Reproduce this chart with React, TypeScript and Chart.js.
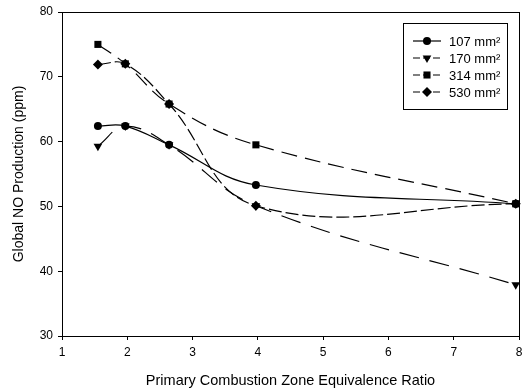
import React, { useEffect, useRef } from 'react';
import { Chart, registerables } from 'chart.js';

Chart.register(...registerables);

const phi = [1.55, 1.97, 2.64, 3.97, 7.95];
const no107 = [62.4, 62.4, 59.5, 53.3, 50.4];
const no170 = [59.3, 62.4, 59.5, 50.1, 37.9];
const no314 = [75.0, 72.0, 65.8, 59.5, 50.4];
const no530 = [71.9, 72.0, 65.8, 50.1, 50.4];
const seriesLabels = ['107 mm²', '170 mm²', '314 mm²', '530 mm²'];
const seriesValues = [no107, no170, no314, no530];
const pointStyles = ['circle', 'triangle', 'rect', 'rectRot'];
const pointRotations = [0, 180, 0, 0];
const pointRadii = [4, 5, 5, 5];
const dashes = [[], [20, 11], [16, 8], [13, 4]];
const xTicks = [1, 2, 3, 4, 5, 6, 7, 8];
const yTicks = [30, 40, 50, 60, 70, 80];

const FONT = "'Liberation Sans', Arial, sans-serif";

function drawMarker(ctx: CanvasRenderingContext2D, style: string, rot: number, x: number, y: number, r: number) {
  ctx.save();
  ctx.setLineDash([]);
  ctx.fillStyle = '#000';
  ctx.beginPath();
  if (style === 'circle') {
    ctx.arc(x, y, r, 0, Math.PI * 2);
  } else if (style === 'rect') {
    const s = Math.SQRT1_2 * r;
    ctx.rect(x - s, y - s, 2 * s, 2 * s);
  } else if (style === 'rectRot') {
    ctx.moveTo(x, y - r);
    ctx.lineTo(x + r, y);
    ctx.lineTo(x, y + r);
    ctx.lineTo(x - r, y);
    ctx.closePath();
  } else if (style === 'triangle') {
    const a0 = (rot * Math.PI) / 180;
    for (let k = 0; k < 3; k++) {
      const a = a0 + (k * 2 * Math.PI) / 3;
      const px = x + Math.sin(a) * r;
      const py = y - Math.cos(a) * r;
      if (k === 0) ctx.moveTo(px, py);
      else ctx.lineTo(px, py);
    }
    ctx.closePath();
  }
  ctx.fill();
  ctx.restore();
}

const framePlugin = {
  id: 'frameAndLegend',
  afterDraw(chart: any) {
    const ctx: CanvasRenderingContext2D = chart.ctx;
    const a = chart.chartArea;
    ctx.save();
    ctx.strokeStyle = '#000';
    ctx.lineWidth = 1;
    ctx.setLineDash([]);
    ctx.strokeRect(Math.round(a.left) + 0.5, Math.round(a.top) + 0.5, Math.round(a.right - a.left), Math.round(a.bottom - a.top));

    // legend box
    const bx = 403, by = 23, bw = 104, bh = 86;
    ctx.fillStyle = '#fff';
    ctx.fillRect(bx, by, bw, bh);
    ctx.strokeRect(bx + 0.5, by + 0.5, bw, bh);
    ctx.font = `13px ${FONT}`;
    ctx.textBaseline = 'middle';
    ctx.textAlign = 'left';
    chart.data.datasets.forEach((ds: any, i: number) => {
      const y = by + 18 + i * 17;
      ctx.save();
      ctx.strokeStyle = '#000';
      ctx.lineWidth = 1.2;
      ctx.setLineDash(ds.borderDash && ds.borderDash.length ? [7, 3] : []);
      ctx.beginPath();
      ctx.moveTo(413, y);
      ctx.lineTo(441, y);
      ctx.stroke();
      ctx.restore();
      drawMarker(ctx, ds.pointStyle, ds.pointRotation || 0, 427, y, ds.pointRadius);
      ctx.fillStyle = '#000';
      ctx.fillText(ds.label, 449, y + 1);
    });
    ctx.restore();
  },
};

export default function App() {
  const ref = useRef<HTMLCanvasElement | null>(null);
  useEffect(() => {
    if (!ref.current) return;
    const chart = new Chart(ref.current, {
      type: 'line',
      data: {
        datasets: seriesValues.map((vals, i) => ({
          label: seriesLabels[i],
          data: phi.map((x, j) => ({ x, y: vals[j] })),
          borderColor: '#000',
          backgroundColor: '#000',
          borderWidth: 1.2,
          borderDash: dashes[i],
          pointStyle: pointStyles[i] as any,
          pointRotation: pointRotations[i],
          pointRadius: pointRadii[i],
          pointBorderWidth: 0,
          pointBackgroundColor: '#000',
          tension: 0.4,
          fill: false,
          clip: false as any,
        })),
      },
      options: {
        responsive: false,
        animation: false,
        layout: { padding: { left: 0, right: 3, top: 12, bottom: 0 } },
        plugins: {
          legend: { display: false },
          tooltip: { enabled: false },
        },
        scales: {
          x: {
            type: 'linear',
            min: 1,
            max: 8,
            afterBuildTicks: (s: any) => {
              s.ticks = xTicks.map((v) => ({ value: v }));
            },
            afterFit: (s: any) => {
              s.height = 54;
              s.paddingLeft = 0;
              s.paddingRight = 0;
            },
            grid: { drawOnChartArea: false, drawTicks: true, tickLength: 4, color: '#000' },
            border: { color: '#000', width: 1 },
            ticks: { color: '#000', font: { family: FONT, size: 12 }, padding: 5, maxRotation: 0 },
            title: {
              display: true,
              text: 'Primary Combustion Zone Equivalence Ratio',
              color: '#000',
              font: { family: FONT, size: 14.5 },
              padding: { top: 5, bottom: 0 },
            },
          },
          y: {
            type: 'linear',
            min: 30,
            max: 80,
            afterBuildTicks: (s: any) => {
              s.ticks = yTicks.map((v) => ({ value: v }));
            },
            afterFit: (s: any) => {
              s.width = 62;
              s.paddingTop = 0;
              s.paddingBottom = 0;
            },
            grid: { drawOnChartArea: false, drawTicks: true, tickLength: 4, color: '#000' },
            border: { color: '#000', width: 1 },
            ticks: { color: '#000', font: { family: FONT, size: 12 }, padding: 5 },
            title: {
              display: true,
              text: 'Global NO Production (ppm)',
              color: '#000',
              font: { family: FONT, size: 14 },
              padding: { top: 11, bottom: 0 },
            },
          },
        },
      },
      plugins: [framePlugin],
    });
    return () => chart.destroy();
  }, []);
  return (
    <div style={{ position: 'absolute', left: 0, top: 0, width: 524, height: 390, background: '#fff' }}>
      <canvas ref={ref} width={524} height={390} />
    </div>
  );
}
